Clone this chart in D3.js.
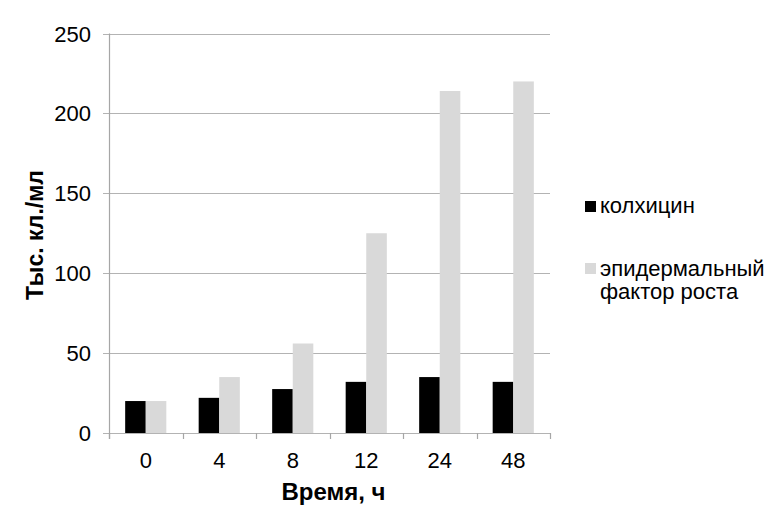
<!DOCTYPE html>
<meta charset="utf-8">
<style>
    body { margin: 0; background: #fff; }
    text { font-family: "Liberation Sans", Arial, sans-serif; fill: #000; }
    .grid line { stroke: #b3b3b3; stroke-width: 1.2px; }
</style>
<svg width="773" height="531"></svg>
<script src="https://cdn.jsdelivr.net/npm/d3@7"></script>
<script>

    // data
    var hours = ["0", "4", "8", "12", "24", "48"];
    var colchicine = [20, 22, 27.5, 32, 35, 32];
    var egf = [20, 35, 56, 125, 214, 220];
    var seriesNames = ["колхицин", "эпидермальный фактор роста"];
    var seriesColors = ["#000000", "#d9d9d9"];
    var yTicks = [0, 50, 100, 150, 200, 250];

    var svg = d3.select("svg"),
        plotLeft = 109, plotRight = 550, plotTop = 33.5, plotBottom = 433;

    var x = d3.scaleBand().domain(hours).range([plotLeft, plotRight]).paddingInner(0).paddingOuter(0);
    var y = d3.scaleLinear().domain([0, 250]).range([plotBottom, plotTop]);

    // horizontal grid lines with small ticks left of the axis
    svg.append("g").attr("class", "grid")
        .selectAll("line").data(yTicks).enter().append("line")
        .attr("x1", plotLeft - 6).attr("x2", plotRight)
        .attr("y1", function(d) { return Math.round(y(d)) + 0.5; })
        .attr("y2", function(d) { return Math.round(y(d)) + 0.5; });

    // y axis line
    svg.append("line")
        .attr("x1", plotLeft + 0.5).attr("x2", plotLeft + 0.5)
        .attr("y1", plotTop).attr("y2", plotBottom + 6)
        .attr("stroke", "#a6a6a6").attr("stroke-width", 1.2);

    // x ticks between categories
    var xTickPos = hours.map(function(h) { return x(h); }).concat([plotRight]);
    svg.append("g").selectAll("line").data(xTickPos).enter().append("line")
        .attr("x1", function(d) { return Math.round(d) + 0.5; })
        .attr("x2", function(d) { return Math.round(d) + 0.5; })
        .attr("y1", plotBottom).attr("y2", plotBottom + 6)
        .attr("stroke", "#a6a6a6").attr("stroke-width", 1.2);

    // bars
    var bw = x.bandwidth() * 0.28;
    var groups = svg.append("g").selectAll("g").data(hours).enter().append("g");
    [colchicine, egf].forEach(function(vals, s) {
        groups.append("rect")
            .attr("x", function(d) { return x(d) + x.bandwidth() / 2 - bw + s * bw; })
            .attr("width", bw)
            .attr("y", function(d, i) { return y(vals[i]); })
            .attr("height", function(d, i) { return y(0) - y(vals[i]); })
            .attr("fill", seriesColors[s]);
    });

    // tick labels
    svg.append("g").selectAll("text").data(yTicks).enter().append("text")
        .attr("x", 91).attr("y", function(d) { return y(d) + 8; })
        .attr("text-anchor", "end").style("font-size", "22px")
        .text(function(d) { return d; });

    svg.append("g").selectAll("text").data(hours).enter().append("text")
        .attr("x", function(d) { return x(d) + x.bandwidth() / 2; })
        .attr("y", 468)
        .attr("text-anchor", "middle").style("font-size", "22px")
        .text(function(d) { return d; });

    // axis titles
    svg.append("text")
        .attr("x", 333.5).attr("y", 500)
        .attr("text-anchor", "middle")
        .style("font-size", "24px").style("font-weight", "bold")
        .text("Время, ч");

    svg.append("text")
        .attr("transform", "translate(43,235) rotate(-90)")
        .attr("text-anchor", "middle")
        .style("font-size", "23px").style("font-weight", "bold")
        .text("Тыс. кл./мл");

    // legend
    var legendY = [201, 263];
    seriesNames.forEach(function(name, s) {
        svg.append("rect")
            .attr("x", 585).attr("y", legendY[s])
            .attr("width", 11).attr("height", 11)
            .attr("fill", seriesColors[s]);
    });
    svg.append("text").attr("x", 600).attr("y", 213)
        .style("font-size", "22px").text(seriesNames[0]);
    var t2 = svg.append("text").attr("x", 600).attr("y", 276).style("font-size", "22px");
    t2.append("tspan").attr("x", 600).text("эпидермальный");
    t2.append("tspan").attr("x", 600).attr("dy", 23).text("фактор роста");

</script>
